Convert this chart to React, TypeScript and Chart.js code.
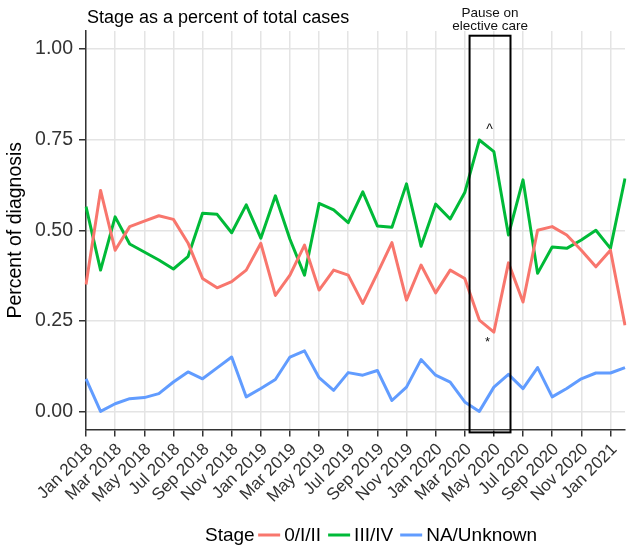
import React, { useEffect, useRef } from 'react';
import { Chart, registerables } from 'chart.js';

Chart.register(...registerables);

const months = [
  'Jan 2018', 'Feb 2018', 'Mar 2018', 'Apr 2018', 'May 2018', 'Jun 2018', 'Jul 2018', 'Aug 2018', 'Sep 2018', 'Oct 2018', 'Nov 2018', 'Dec 2018',
  'Jan 2019', 'Feb 2019', 'Mar 2019', 'Apr 2019', 'May 2019', 'Jun 2019', 'Jul 2019', 'Aug 2019', 'Sep 2019', 'Oct 2019', 'Nov 2019', 'Dec 2019',
  'Jan 2020', 'Feb 2020', 'Mar 2020', 'Apr 2020', 'May 2020', 'Jun 2020', 'Jul 2020', 'Aug 2020', 'Sep 2020', 'Oct 2020', 'Nov 2020', 'Dec 2020',
  'Jan 2021', 'Feb 2021',
];

const stageEarly = [
  0.35, 0.61, 0.445, 0.51, 0.525, 0.54, 0.53, 0.465, 0.367, 0.341, 0.358, 0.39,
  0.464, 0.32, 0.376, 0.459, 0.335, 0.39, 0.376, 0.298, 0.381, 0.466, 0.307, 0.404,
  0.327, 0.39, 0.367, 0.252, 0.219, 0.41, 0.302, 0.5, 0.51, 0.487, 0.445, 0.399,
  0.445, 0.238,
];

const stageLate = [
  0.565, 0.39, 0.537, 0.462, 0.44, 0.418, 0.393, 0.427, 0.547, 0.544, 0.493, 0.57,
  0.478, 0.595, 0.475, 0.376, 0.574, 0.556, 0.521, 0.606, 0.512, 0.508, 0.628, 0.456,
  0.572, 0.531, 0.604, 0.749, 0.717, 0.487, 0.639, 0.381, 0.454, 0.45, 0.473, 0.5,
  0.45, 0.643,
];

const stageUnknown = [
  0.09, 0.0, 0.021, 0.035, 0.038, 0.049, 0.081, 0.109, 0.09, 0.12, 0.15, 0.04,
  0.063, 0.088, 0.15, 0.167, 0.093, 0.058, 0.107, 0.1, 0.113, 0.03, 0.067, 0.143,
  0.1, 0.081, 0.026, 0.0, 0.067, 0.102, 0.063, 0.121, 0.04, 0.063, 0.09, 0.106,
  0.106, 0.121,
];

const seriesNames = ['0/I/II', 'III/IV', 'NA/Unknown'];
const seriesColors = ['#F8766D', '#00BA38', '#619CFF'];
const yTicks = [0, 0.25, 0.5, 0.75, 1.0];

const pauseStart = 26.33;
const pauseEnd = 29.14;

const FONT = "'Liberation Sans', Arial, Helvetica, sans-serif";
const GRID = '#e4e4e4';
const AXIS = '#333333';

const overlayPlugin = {
  id: 'overlay',
  afterDatasetsDraw(chart: any) {
    const { ctx } = chart;
    const x = chart.scales.x;
    const y = chart.scales.y;
    ctx.save();
    // pause box
    const x0 = x.getPixelForValue(pauseStart);
    const x1 = x.getPixelForValue(pauseEnd);
    const y0 = y.getPixelForValue(1.037);
    const y1 = y.getPixelForValue(-0.058);
    ctx.strokeStyle = '#000';
    ctx.lineWidth = 2;
    ctx.strokeRect(x0, y0, x1 - x0, y1 - y0);

    ctx.fillStyle = '#111';
    ctx.textBaseline = 'alphabetic';
    ctx.textAlign = 'center';
    ctx.font = `13.5px ${FONT}`;
    const tx = (x0 + x1) / 2;
    ctx.fillText('Pause on', tx, y.getPixelForValue(1.09));
    ctx.fillText('elective care', tx, y.getPixelForValue(1.054));

    ctx.font = `14px ${FONT}`;
    ctx.fillText('^', x.getPixelForValue(27.7), y.getPixelForValue(0.786) + 7.5);
    ctx.font = `13px ${FONT}`;
    ctx.fillText('*', x.getPixelForValue(27.56), y.getPixelForValue(0.201) + 7.5);

    // title
    ctx.textAlign = 'left';
    ctx.fillStyle = '#000';
    ctx.font = `18px ${FONT}`;
    ctx.fillText('Stage as a percent of total cases', chart.chartArea.left + 1, 22.7);

    // legend
    ctx.font = `19px ${FONT}`;
    ctx.fillStyle = '#000';
    const ly = 535;
    let lx = 205;
    ctx.textBaseline = 'middle';
    ctx.fillText('Stage', lx, ly + 1);
    lx += ctx.measureText('Stage').width + 3.5;
    seriesNames.forEach((name, i) => {
      ctx.strokeStyle = seriesColors[i];
      ctx.lineWidth = 3;
      ctx.beginPath();
      ctx.moveTo(lx, ly);
      ctx.lineTo(lx + 22, ly);
      ctx.stroke();
      lx += 26;
      ctx.fillStyle = '#000';
      ctx.fillText(name, lx, ly + 1);
      lx += ctx.measureText(name).width + 7;
    });
    ctx.restore();
  },
};

export default function App() {
  const canvasRef = useRef<HTMLCanvasElement | null>(null);

  useEffect(() => {
    const canvas = canvasRef.current;
    if (!canvas) return;
    const seriesValues = [stageEarly, stageLate, stageUnknown];
    const chart = new Chart(canvas, {
      type: 'line',
      data: {
        labels: months,
        datasets: seriesNames.map((name, i) => ({
          label: name,
          data: seriesValues[i],
          borderColor: seriesColors[i],
          backgroundColor: seriesColors[i],
          borderWidth: 3,
          pointRadius: 0,
          tension: 0,
          fill: false,
          borderJoinStyle: 'round' as const,
          borderCapStyle: 'butt' as const,
        })),
      },
      options: {
        animation: false,
        responsive: false,
        devicePixelRatio: 1,
        layout: { padding: { top: 31, right: 3, bottom: 0, left: 0 } },
        plugins: {
          legend: { display: false },
          title: { display: false },
          tooltip: { enabled: false },
        },
        scales: {
          x: {
            type: 'category',
            offset: false,
            grid: {
              color: (c: any) => (c.index % 2 === 0 ? GRID : 'rgba(0,0,0,0)'),
              tickColor: (c: any) => (c.index % 2 === 0 ? AXIS : 'rgba(0,0,0,0)'),
              lineWidth: 1.5,
              tickWidth: 1.5,
              tickLength: 7,
              drawTicks: true,
            },
            border: { display: true, color: AXIS, width: 1.5 },
            ticks: {
              autoSkip: false,
              maxRotation: 45,
              minRotation: 45,
              padding: 3,
              labelOffset: 4,
              color: '#333',
              font: { family: FONT, size: 17 },
              callback: (_v: any, i: number) => (i % 2 === 0 ? months[i] : ''),
            },
            afterFit: (s: any) => {
              s.height = 121.5;
              s.paddingLeft = 0;
              s.paddingRight = 0;
            },
          },
          y: {
            min: -0.05,
            max: 1.05,
            afterBuildTicks: (s: any) => {
              s.ticks = yTicks.map((v) => ({ value: v }));
            },
            grid: {
              color: GRID,
              lineWidth: 1.5,
              tickColor: AXIS,
              tickWidth: 1.5,
              tickLength: 7,
            },
            border: { display: true, color: AXIS, width: 1.5 },
            ticks: {
              color: '#333',
              padding: 6,
              font: { family: FONT, size: 19.5 },
              callback: (v: any) => Number(v).toFixed(2),
            },
            title: {
              display: true,
              text: 'Percent of diagnosis',
              color: '#000',
              font: { family: FONT, size: 19.5 },
              padding: { top: 4, bottom: 0 },
            },
            afterFit: (s: any) => {
              s.width = 86;
              s.paddingTop = 0;
              s.paddingBottom = 0;
            },
          },
        },
      },
      plugins: [overlayPlugin],
    });
    return () => chart.destroy();
  }, []);

  return (
    <div style={{ position: 'absolute', left: 0, top: 0, width: 628, height: 551, background: '#fff' }}>
      <canvas ref={canvasRef} width={628} height={551} style={{ display: 'block', width: 628, height: 551 }} />
    </div>
  );
}
